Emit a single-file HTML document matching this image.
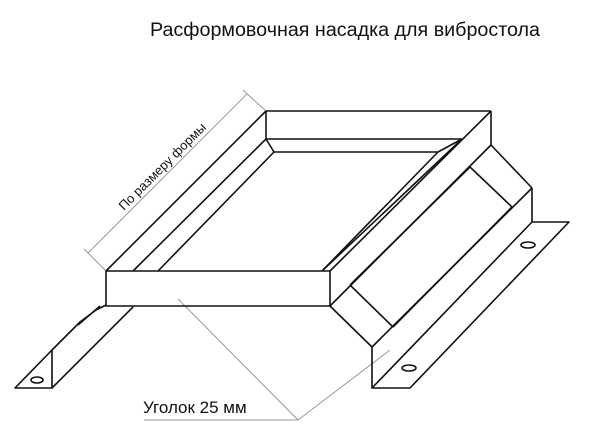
<!DOCTYPE html>
<html><head><meta charset="utf-8"><style>
html,body{margin:0;padding:0;background:#fff;}
svg{display:block;}
text{font-family:"Liberation Sans",sans-serif;fill:#111;}
</style></head><body>
<svg width="600" height="447" viewBox="0 0 600 447" xmlns="http://www.w3.org/2000/svg">
<text x="345" y="36" font-size="19" text-anchor="middle" textLength="390" lengthAdjust="spacingAndGlyphs">Расформовочная насадка для вибростола</text>
<g stroke="#999" stroke-width="1" fill="none">
<line x1="88" y1="253" x2="247" y2="94"/>
<line x1="84" y1="249" x2="106" y2="271"/>
<line x1="243" y1="90" x2="266" y2="111"/>
<line x1="144" y1="420" x2="298" y2="420"/>
<line x1="298" y1="420" x2="178" y2="299"/>
<line x1="298" y1="420" x2="390" y2="350"/>
</g>
<text x="0" y="0" font-size="13" transform="translate(124,211) rotate(-45)">По размеру формы</text>
<text x="143" y="413" font-size="17">Уголок 25 мм</text>
<g stroke="#111" stroke-width="1.6" fill="none" stroke-linejoin="round">
<rect x="106" y="271" width="224" height="35"/>
<line x1="266" y1="111" x2="491" y2="111"/>
<line x1="266" y1="111" x2="266" y2="139"/>
<line x1="266" y1="139" x2="462" y2="139"/>
<line x1="274" y1="152" x2="438" y2="152"/>
<line x1="266" y1="139" x2="274" y2="152"/>
<line x1="438" y1="152" x2="462" y2="139"/>
<line x1="106" y1="271" x2="266" y2="111"/>
<line x1="133" y1="271" x2="266" y2="139"/>
<line x1="158" y1="271" x2="274" y2="152"/>
<line x1="330" y1="271" x2="491" y2="111"/>
<line x1="322" y1="271" x2="462" y2="139"/>
<line x1="322" y1="271" x2="438" y2="152"/>
<line x1="491" y1="111" x2="491" y2="145"/>
<line x1="330" y1="306" x2="491" y2="145"/>
<line x1="491" y1="145" x2="532" y2="188"/>
<line x1="532" y1="188" x2="532" y2="222"/>
<line x1="330" y1="306" x2="372" y2="347"/>
<line x1="372" y1="347" x2="532" y2="188"/>
<line x1="350" y1="285" x2="470" y2="167"/>
<line x1="393" y1="327" x2="512" y2="207"/>
<line x1="470" y1="167" x2="512" y2="207"/>
<line x1="350" y1="285" x2="393" y2="327"/>
<polyline points="532,222 569,222 410,388 372,388 372,347"/>
<line x1="372" y1="388" x2="532" y2="222"/>
<ellipse cx="528" cy="245" rx="7" ry="3"/>
<ellipse cx="409" cy="368" rx="7" ry="3"/>
<polyline points="106,305 96,310 80,322 52,350 52,388 15,388 52,350"/>
<line x1="52" y1="388" x2="133" y2="307"/>
<line x1="100" y1="306" x2="78" y2="325"/>
<ellipse cx="37" cy="380" rx="6" ry="3"/>
</g>
</svg>
</body></html>
